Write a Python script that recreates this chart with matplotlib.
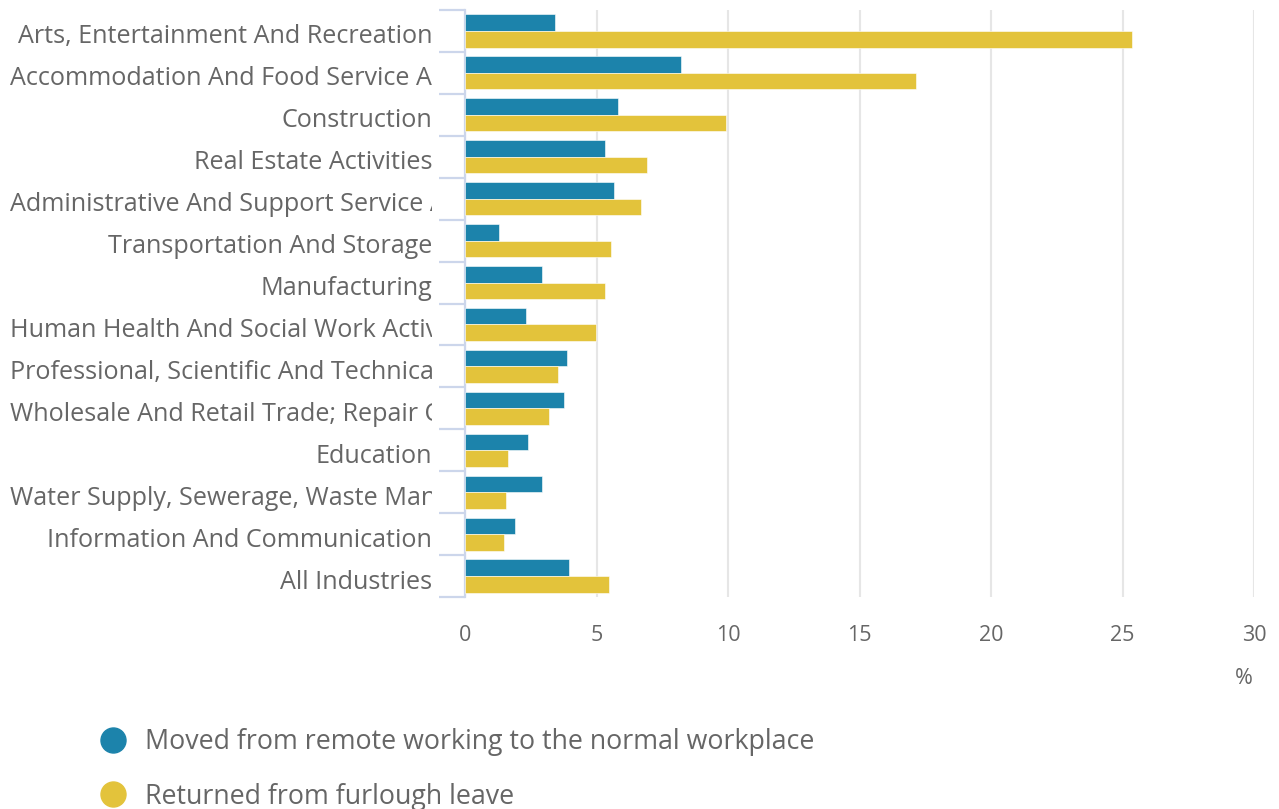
import matplotlib
matplotlib.use("Agg")
import matplotlib.pyplot as plt
import matplotlib.transforms as mtransforms
from matplotlib.lines import Line2D

plt.rcParams['font.family'] = ['Open Sans', 'DejaVu Sans']

# data (percent)
categories = [
    "Arts, Entertainment And Recreation",
    "Accommodation And Food Service Activities",
    "Construction",
    "Real Estate Activities",
    "Administrative And Support Service Activities",
    "Transportation And Storage",
    "Manufacturing",
    "Human Health And Social Work Activities",
    "Professional, Scientific And Technical Activities",
    "Wholesale And Retail Trade; Repair Of Motor Vehicles And Motorcycles",
    "Education",
    "Water Supply, Sewerage, Waste Management And Remediation Activities",
    "Information And Communication",
    "All Industries",
]
moved_remote = [3.42, 8.21, 5.82, 5.31, 5.65, 1.31, 2.93, 2.33, 3.87, 3.78, 2.41, 2.93, 1.90, 3.94]
returned_furlough = [25.36, 17.15, 9.92, 6.93, 6.68, 5.56, 5.31, 4.97, 3.52, 3.18, 1.65, 1.56, 1.47, 5.49]
x_ticks = [0, 5, 10, 15, 20, 25, 30]

blue = "#1c83ab"
yellow = "#e3c33b"
txt = "#666666"
axis_col = "#ccd6eb"

W, H = 1279, 809
fig = plt.figure(figsize=(W / 100, H / 100), dpi=100)
ax = fig.add_axes([465 / W, 1 - 597 / H, (1254 - 465) / W, (597 - 10) / H])

pos = list(range(len(categories)))
bh = 0.395
ax.barh([p - bh / 2 for p in pos], moved_remote, height=bh, color=blue,
        edgecolor="white", linewidth=0.4, zorder=3)
ax.barh([p + bh / 2 for p in pos], returned_furlough, height=bh, color=yellow,
        edgecolor="white", linewidth=0.4, zorder=3)

ax.set_xlim(0, 30)
ax.set_ylim(len(categories) - 0.5, -0.5)
ax.set_xticks(x_ticks)
ax.set_xticklabels([str(t) for t in x_ticks])
ax.tick_params(axis="x", length=0, pad=20, labelsize=15.5, labelcolor=txt)
ax.grid(axis="x", color="#e6e6e6", linewidth=1.5, zorder=0)

for s in ["top", "right", "bottom"]:
    ax.spines[s].set_visible(False)
ax.spines["left"].set_color(axis_col)
ax.spines["left"].set_linewidth(1.6)

ax.set_yticks(pos)
ax.set_yticklabels([])
ax.tick_params(axis="y", which="major", length=0)
ax.set_yticks([p - 0.5 for p in pos] + [len(pos) - 0.5], minor=True)
ax.tick_params(axis="y", which="minor", length=19, width=1.6, color=axis_col)

# category labels, clipped like the original
trans = mtransforms.blended_transform_factory(fig.transFigure, ax.transData)
trans = trans + mtransforms.ScaledTranslation(0, -6 / 100, fig.dpi_scale_trans)
labels = []
for p, c in zip(pos, categories):
    t = ax.text(432 / W, p, c, transform=trans, ha="right", va="center",
                fontsize=18.1, color=txt, clip_on=False)
    labels.append(t)

fig.canvas.draw()
r = fig.canvas.get_renderer()
clip = mtransforms.Bbox([[0, 0], [432, H]])
for t in labels:
    bb = t.get_window_extent(r)
    if bb.x0 < 10:
        t.set_x(10 / W)
        t.set_ha("left")
        t.set_clip_box(clip)
        t.set_clip_on(True)

fig.text(1244 / W, 1 - 678 / H, "%", ha="center", va="center", fontsize=15.5, color=txt)

handles = [
    Line2D([], [], marker="o", linestyle="none", markersize=18, color=blue),
    Line2D([], [], marker="o", linestyle="none", markersize=18, color=yellow),
]
fig.legend(handles, ["Moved from remote working to the normal workplace",
                     "Returned from furlough leave"],
           loc="upper left", bbox_to_anchor=(97 / W, 1 - 728 / H),
           frameon=False, fontsize=19.3, labelcolor=txt, handletextpad=0.6,
           labelspacing=1.0, handlelength=1.2, borderaxespad=0, borderpad=0)

fig.savefig("out.png", dpi=100)
